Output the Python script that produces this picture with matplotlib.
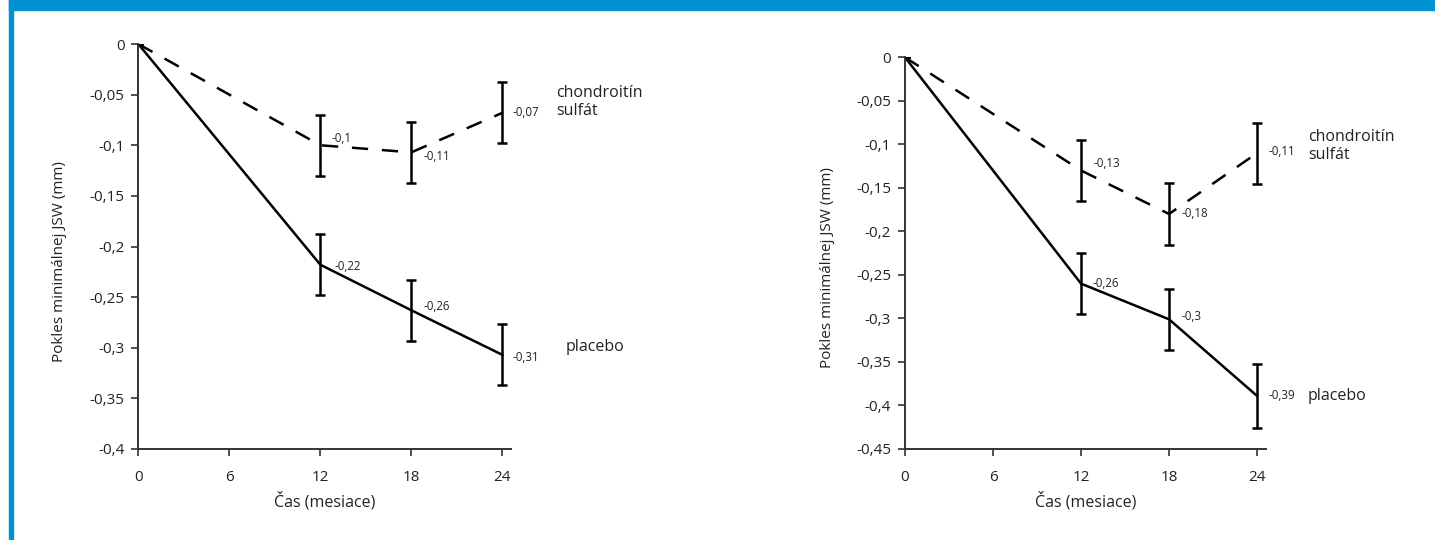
import matplotlib
matplotlib.use("Agg")
import matplotlib.pyplot as plt
from matplotlib.patches import Rectangle

plt.rcParams['font.family'] = ['Open Sans', 'DejaVu Sans']

months = [0, 12, 18, 24]
xticks = [0, 6, 12, 18, 24]

# left panel
left_chond = [0, -0.100, -0.107, -0.068]
left_chond_err = [0, 0.030, 0.030, 0.030]
left_chond_labels = ["-0,1", "-0,11", "-0,07"]
left_plac = [0, -0.218, -0.263, -0.307]
left_plac_err = [0, 0.030, 0.030, 0.030]
left_plac_labels = ["-0,22", "-0,26", "-0,31"]
left_yticks = [0, -0.05, -0.1, -0.15, -0.2, -0.25, -0.3, -0.35, -0.4]

# right panel
right_chond = [0, -0.130, -0.180, -0.110]
right_chond_err = [0, 0.035, 0.036, 0.035]
right_chond_labels = ["-0,13", "-0,18", "-0,11"]
right_plac = [0, -0.260, -0.301, -0.389]
right_plac_err = [0, 0.035, 0.035, 0.037]
right_plac_labels = ["-0,26", "-0,3", "-0,39"]
right_yticks = [0, -0.05, -0.1, -0.15, -0.2, -0.25, -0.3, -0.35, -0.4, -0.45]

ylabel = "Pokles minimálnej JSW (mm)"
xlabel = "Čas (mesiace)"
name_chond = "chondroitín\nsulfát"
name_plac = "placebo"

W, H = 1435, 540
fig = plt.figure(figsize=(W / 100, H / 100), dpi=100)
blue = "#0092d2"
fig.patches.append(Rectangle((9 / W, 1 - 10 / H), 1, 10 / H, transform=fig.transFigure,
                             color=blue, zorder=0))
fig.patches.append(Rectangle((9 / W, 0), 3.5 / W, 1, transform=fig.transFigure,
                             color=blue, zorder=0))


def fmt(v):
    s = ("%g" % v).replace(".", ",")
    return "0" if v == 0 else s


def panel(rect, xmax, ymin, yticks, chond, chond_err, chond_lab, plac, plac_err, plac_lab,
          lab_off, chond_name_xy, plac_name_xy, ylab_x, ylab_y):
    ax = fig.add_axes(rect)
    lw = 1.8
    ax.errorbar(months, chond, yerr=chond_err, color="black", lw=lw, ls=(0, (6.5, 5.5)),
                elinewidth=1.8, capsize=3.3, capthick=1.8, dash_capstyle="butt")
    ax.errorbar(months, plac, yerr=plac_err, color="black", lw=lw, ls="-",
                elinewidth=1.8, capsize=3.3, capthick=1.8)
    for i, (m, v, t) in enumerate(zip(months[1:], chond[1:], chond_lab)):
        dx, dy = lab_off[0][i]
        ax.annotate(t, (m, v), xytext=(dx, dy), textcoords="offset points",
                    fontsize=8.3, va="center", ha="left", color="#222222")
    for i, (m, v, t) in enumerate(zip(months[1:], plac[1:], plac_lab)):
        dx, dy = lab_off[1][i]
        ax.annotate(t, (m, v), xytext=(dx, dy), textcoords="offset points",
                    fontsize=8.3, va="center", ha="left", color="#222222")
    ax.annotate(name_chond, chond_name_xy, xycoords="figure pixels", fontsize=11.5,
                va="center", ha="left", linespacing=1.2, color="#222222")
    ax.annotate(name_plac, plac_name_xy, xycoords="figure pixels", fontsize=11.5,
                va="center", ha="left", color="#222222")
    ax.set_xlim(0, xmax)
    ax.set_ylim(ymin, 0)
    ax.set_xticks(xticks)
    ax.set_yticks(yticks)
    ax.set_yticklabels([fmt(v) for v in yticks])
    ax.set_xticklabels([str(v) for v in xticks])
    for s in ["top", "right"]:
        ax.spines[s].set_visible(False)
    for s in ["left", "bottom"]:
        ax.spines[s].set_linewidth(1.4)
        ax.spines[s].set_color("#333333")
    ax.tick_params(axis="both", direction="out", length=5, width=1.2, color="#333333",
                   labelsize=11, labelcolor="#222222")
    ax.tick_params(axis="y", pad=5)
    ax.tick_params(axis="x", pad=10)
    ax.set_xlabel(xlabel, fontsize=11.5, color="#222222", labelpad=5)
    ax.set_ylabel(ylabel, fontsize=11, color="#222222")
    ax.yaxis.set_label_coords(ylab_x, ylab_y)
    return ax


# left panel geometry (pixels)
lx0, lx1, ly0, ly1 = 138.3, 510.7, 44, 449
panel([lx0 / W, 1 - ly1 / H, (lx1 - lx0) / W, (ly1 - ly0) / H], 24.55, -0.4, left_yticks,
      left_chond, left_chond_err, left_chond_labels, left_plac, left_plac_err, left_plac_labels,
      [[(8, 5), (9, -3), (7, 0)], [(10, -1), (9, 3), (7, -2)]],
      (556, H - 102), (566, H - 347),
      (67 - lx0) / (lx1 - lx0), (ly1 - 262) / (ly1 - ly0))

# right panel geometry (pixels)
rx0, rx1, ry0, ry1 = 905, 1265.7, 57.3, 449
panel([rx0 / W, 1 - ry1 / H, (rx1 - rx0) / W, (ry1 - ry0) / H], 24.59, -0.45, right_yticks,
      right_chond, right_chond_err, right_chond_labels, right_plac, right_plac_err, right_plac_labels,
      [[(9, 5), (9, 0), (8, 1)], [(8, 0), (9, 2), (8, 0)]],
      (1308, H - 146), (1308, H - 396),
      (835 - rx0) / (rx1 - rx0), (ry1 - 268) / (ry1 - ry0))

fig.savefig("out.png", dpi=100, facecolor="white")
